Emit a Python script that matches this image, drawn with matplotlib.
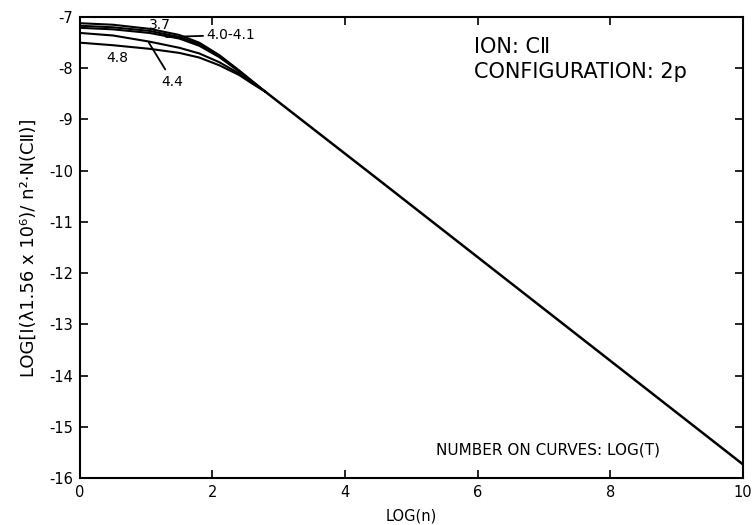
import matplotlib
matplotlib.use("Agg")
import matplotlib.pyplot as plt

plt.rcParams['font.family'] = ['DejaVu Sans']

# Curves for different LOG(T)
x_37 = [0.0, 0.5, 1.05, 1.5, 1.8, 2.1, 2.4, 2.6, 2.8]
y_37 = [-7.12, -7.15, -7.23, -7.35, -7.50, -7.74, -8.04, -8.25, -8.46]
x_40 = [0.0, 0.5, 1.05, 1.5, 1.8, 2.1, 2.4, 2.6, 2.8]
y_40 = [-7.17, -7.20, -7.27, -7.39, -7.53, -7.76, -8.05, -8.26, -8.46]
x_41 = [0.0, 0.5, 1.05, 1.5, 1.8, 2.1, 2.4, 2.6, 2.8]
y_41 = [-7.21, -7.24, -7.31, -7.42, -7.56, -7.78, -8.06, -8.26, -8.46]
x_44 = [0.0, 0.5, 1.05, 1.5, 1.8, 2.1, 2.4, 2.6, 2.8]
y_44 = [-7.31, -7.36, -7.48, -7.60, -7.71, -7.88, -8.10, -8.28, -8.46]
x_48 = [0.0, 0.5, 1.05, 1.5, 1.8, 2.1, 2.4, 2.6, 2.8]
y_48 = [-7.50, -7.55, -7.62, -7.70, -7.79, -7.94, -8.13, -8.30, -8.46]
# common asymptotic line
x_common = [2.8, 4.5, 10.0]
y_common = [-8.46, -10.17, -15.73]

x_ticks = [0, 2, 4, 6, 8, 10]
y_ticks = [-7, -8, -9, -10, -11, -12, -13, -14, -15, -16]

fig = plt.figure(figsize=(7.54, 5.25), dpi=100)
ax = fig.add_axes([0.106, 0.0895, 0.879, 0.878])

for xs, ys in [(x_37, y_37), (x_40, y_40), (x_41, y_41), (x_44, y_44), (x_48, y_48)]:
    ax.plot(xs, ys, color='black', lw=1.5, solid_capstyle='round', solid_joinstyle='round')
ax.plot(x_common, y_common, color='black', lw=1.8, solid_capstyle='round')

ax.set_xlim(0, 10)
ax.set_ylim(-16, -7)
ax.set_xticks(x_ticks)
ax.set_yticks(y_ticks)
ax.set_xticklabels([str(v) for v in x_ticks], fontsize=10.5)
ax.set_yticklabels([str(v) for v in y_ticks], fontsize=10.5)
ax.tick_params(direction='in', length=6, width=1.2, top=True, right=True, pad=5)
for s in ax.spines.values():
    s.set_linewidth(1.5)

ax.set_xlabel('LOG(n)', fontsize=10.5, labelpad=6)
ax.set_ylabel('LOG[I(\u03bb1.56 x 10\u2076)/ n\u00b2\u00b7N(C\u2161)]', fontsize=13, labelpad=8)

fs = 10
ax.text(1.2, -7.16, '3.7', fontsize=fs, ha='center', va='center')
ax.annotate('4.0-4.1', xy=(1.30, -7.39), xytext=(1.90, -7.35), fontsize=fs,
            ha='left', va='center',
            arrowprops=dict(arrowstyle='-', color='black', lw=1.3, shrinkA=0, shrinkB=0))
ax.annotate('4.4', xy=(1.04, -7.50), xytext=(1.40, -8.26), fontsize=fs,
            ha='center', va='center',
            arrowprops=dict(arrowstyle='-', color='black', lw=1.3, shrinkA=2, shrinkB=0))
ax.text(0.57, -7.80, '4.8', fontsize=fs, ha='center', va='center')

ax.text(5.94, -7.59, 'ION: C\u2161', fontsize=15, ha='left', va='center')
ax.text(5.94, -8.08, 'CONFIGURATION: 2p', fontsize=15, ha='left', va='center')
ax.text(5.37, -15.45, 'NUMBER ON CURVES: LOG(T)', fontsize=11, ha='left', va='center')

fig.savefig('out.png', dpi=100)
